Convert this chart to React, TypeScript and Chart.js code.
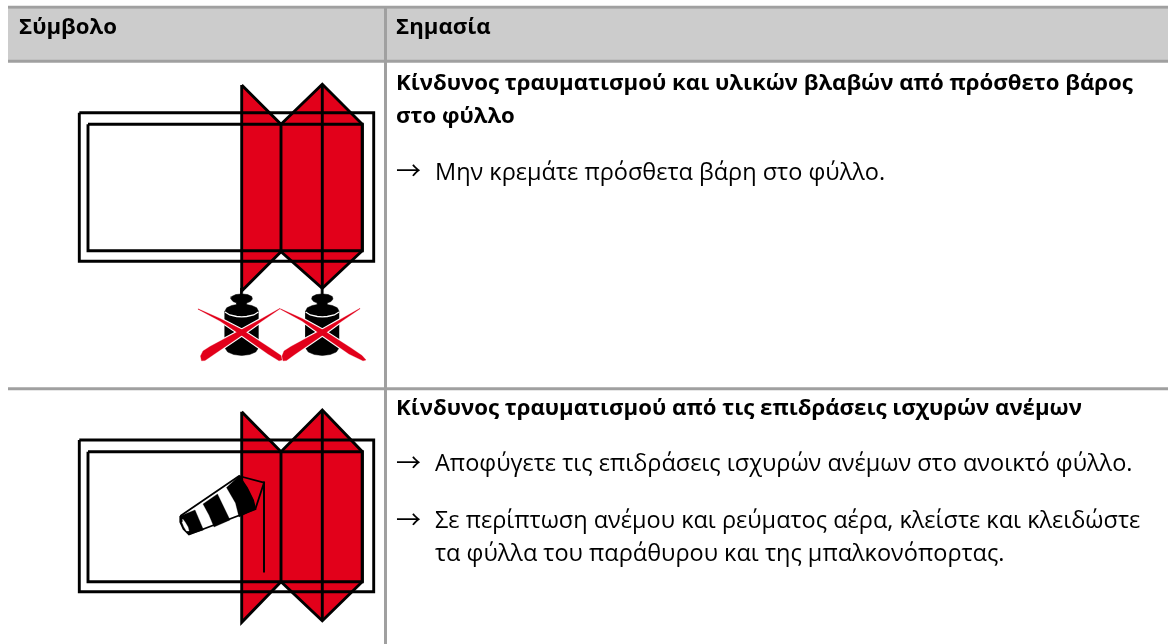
import { useEffect, useRef } from "react";
import { Chart, registerables } from "chart.js";

Chart.register(...registerables);

const GRID = "#a0a0a0";
const RED = "#e2001a";
const pts = (f: number[]) => {
  const o: { x: number; y: number }[] = [];
  for (let i = 0; i + 1 < f.length; i += 2) o.push({ x: f[i], y: f[i + 1] });
  return o;
};

// table
const headerBand = [8, 8.5, 1168, 8.5, 1168, 60.5, 8, 60.5, 8, 8.5];
const ruleTop = [8, 7.3, 1168, 7.3];
const ruleHead = [8, 61.3, 1168, 61.3];
const ruleMid = [8, 388.7, 1168, 388.7];
const ruleColumn = [385.5, 6, 385.5, 644];

// first symbol
const sash1 = [241.7, 85, 281, 124.3, 322.3, 84.3, 362.3, 124.3, 362.3, 250.7, 322.3, 288.3, 281, 251.7, 241.7, 291, 241.7, 85];
const outer1 = [79.3, 112.7, 373.7, 112.7, 373.7, 261.3, 79.3, 261.3, 79.3, 112.7];
const inner1 = [88, 124.3, 362.3, 124.3, 362.3, 250.7, 88, 250.7, 88, 124.3];
const foldA1 = [281, 124.3, 281, 251.7];
const foldB1 = [322.3, 84.3, 322.3, 288.3];

// hanging weights
const weightL = [240.7, 288, 240.7, 294, 235.7, 294.6, 231.7, 296.5, 231, 299, 233, 301.5, 236.7, 303, 236.7, 304.6, 231.7, 305.5, 226.7, 307.8, 225, 311, 225, 348, 227.7, 352, 233.7, 354.5, 241.7, 355.5, 249.7, 354.5, 255.7, 352, 258.4, 348, 258.4, 311, 256.7, 307.8, 251.7, 305.5, 246.7, 304.6, 246.7, 303, 250.4, 301.5, 252.4, 299, 251.7, 296.5, 247.7, 294.6, 242.7, 294, 242.7, 288, 240.7, 288];
const rimL = [225, 312, 229.7, 315, 236.7, 316.5, 241.7, 316.8, 246.7, 316.5, 253.7, 315, 258.4, 312];
const weightR = [321.3, 288, 321.3, 294, 316.3, 294.6, 312.3, 296.5, 311.6, 299, 313.6, 301.5, 317.3, 303, 317.3, 304.6, 312.3, 305.5, 307.3, 307.8, 305.6, 311, 305.6, 348, 308.3, 352, 314.3, 354.5, 322.3, 355.5, 330.3, 354.5, 336.3, 352, 339, 348, 339, 311, 337.3, 307.8, 332.3, 305.5, 327.3, 304.6, 327.3, 303, 331, 301.5, 333, 299, 332.3, 296.5, 328.3, 294.6, 323.3, 294, 323.3, 288, 321.3, 288];
const rimR = [305.6, 312, 310.3, 315, 317.3, 316.5, 322.3, 316.8, 327.3, 316.5, 334.3, 315, 339, 312];

// crossed-out strokes
const crossA1 = [198, 308.8, 220, 318.5, 241.7, 329.6, 270, 348, 281, 355.5, 282, 360, 279, 360.8, 268, 354, 241.7, 335.4, 220, 321, 198, 309.2, 198, 308.8];
const crossB1 = [280, 308.3, 262, 318.5, 241.7, 329.6, 210, 346.5, 203, 351, 200.5, 356, 201.5, 360.8, 205, 360.5, 213, 355, 241.7, 335.4, 262, 321, 280, 308.8, 280, 308.3];
const crossA2 = [280.5, 308.8, 302, 318.5, 322.3, 329.6, 351, 348, 362, 355.5, 366, 360, 363, 360.8, 349, 354, 322.3, 335.4, 302, 321, 280.5, 309.2, 280.5, 308.8];
const crossB2 = [360, 308.3, 342, 318.5, 322.3, 329.6, 291, 346.5, 284, 351, 282, 356, 283, 360.8, 286.5, 360.5, 294, 355, 322.3, 335.4, 342, 321, 360, 308.8, 360, 308.3];

// second symbol
const sash2 = [241.7, 411.7, 281, 451.7, 322.3, 410, 362.3, 451.7, 362.3, 581.7, 322.3, 620.7, 281, 581.7, 241.7, 622.3, 241.7, 411.7];
const outer2 = [79.3, 440, 373.7, 440, 373.7, 591.7, 79.3, 591.7, 79.3, 440];
const inner2 = [88, 451.7, 362.3, 451.7, 362.3, 581.7, 88, 581.7, 88, 451.7];
const foldA2 = [281, 451.7, 281, 581.7];
const foldB2 = [322.3, 410, 322.3, 620.7];

// wind sock
const pole = [264, 481.5, 264, 572.5];
const sockTail = [239, 476, 264, 482.7, 255.3, 509.3];
const sockBody = [180.3, 516, 239, 476, 247, 488, 253, 500, 255.3, 509.3, 189, 534.5, 183.5, 529, 180.3, 522, 180.3, 516];
const sockBand1 = [180.3, 516, 195, 510, 203.5, 530, 189, 534.5, 183.5, 529, 180.3, 522, 180.3, 516];
const sockBand2 = [203, 504, 217.5, 494, 230, 520, 214, 527, 209, 515, 203, 504];
const sockBand3 = [226.5, 487.5, 239, 476, 247, 488, 253, 500, 255.3, 509.3, 239, 517, 235.5, 503, 226.5, 487.5];
const sockMouth = [182.7, 519, 185, 522, 188, 527, 189, 531, 186.5, 531, 184, 527, 182, 522, 182.7, 519];

const HEAD_LEFT = "Σύμβολο";
const HEAD_RIGHT = "Σημασία";
const ROW1_TITLE = ["Κίνδυνος τραυματισμού και υλικών βλαβών από πρόσθετο βάρος", "στο φύλλο"];
const ROW1_BODY = "Μην κρεμάτε πρόσθετα βάρη στο φύλλο.";
const ROW2_TITLE = "Κίνδυνος τραυματισμού από τις επιδράσεις ισχυρών ανέμων";
const ROW2_A = "Αποφύγετε τις επιδράσεις ισχυρών ανέμων στο ανοικτό φύλλο.";
const ROW2_B = ["Σε περίπτωση ανέμου και ρεύματος αέρα, κλείστε και κλειδώστε", "τα φύλλα του παράθυρου και της μπαλκονόπορτας."];
const ARROW = "→";

const BOLD = '700 22.2px "Open Sans"';
const BODY = '400 23.5px "Open Sans"';
const ARROWFONT = '400 25px "Noto Sans CJK SC"';

const texts: [string, number, number, string][] = [
  [HEAD_LEFT, 19, 34, BOLD],
  [HEAD_RIGHT, 396, 34, BOLD],
  [ROW1_TITLE[0], 396, 90, BOLD],
  [ROW1_TITLE[1], 396, 123, BOLD],
  [ARROW, 396, 179.5, ARROWFONT],
  [ROW1_BODY, 435, 179.5, BODY],
  [ROW2_TITLE, 396, 415, BOLD],
  [ARROW, 396, 472, ARROWFONT],
  [ROW2_A, 435, 470.5, BODY],
  [ARROW, 396, 528.5, ARROWFONT],
  [ROW2_B[0], 435, 527.5, BODY],
  [ROW2_B[1], 435, 560.5, BODY],
];

const shape = (data: number[], fill: string | false, border: string, width: number, join: CanvasLineJoin = "miter") => ({
  data: pts(data),
  showLine: true,
  pointRadius: 0,
  borderColor: border,
  borderWidth: width,
  backgroundColor: fill || "transparent",
  fill: fill ? "shape" : false,
  tension: 0,
  borderJoinStyle: join,
  borderCapStyle: "butt" as const,
  clip: false,
});

const INK = 2.9;
const layers = [
  shape(headerBand, "#cccccc", "transparent", 0),
  shape(ruleTop, false, GRID, 3),
  shape(ruleHead, false, GRID, 3),
  shape(ruleMid, false, GRID, 3),
  shape(ruleColumn, false, GRID, 3),
  shape(sash1, RED, "#000", INK),
  shape(outer1, false, "#000", INK),
  shape(inner1, false, "#000", INK),
  shape(foldA1, false, "#000", INK),
  shape(foldB1, false, "#000", INK),
  shape(weightL, "#000", "#000", 0.5),
  shape(rimL, false, "#fff", 1.3),
  shape(weightR, "#000", "#000", 0.5),
  shape(rimR, false, "#fff", 1.3),
  shape(crossA1, false, "#fff", 2.6, "round"),
  shape(crossB1, false, "#fff", 2.6, "round"),
  shape(crossA2, false, "#fff", 2.6, "round"),
  shape(crossB2, false, "#fff", 2.6, "round"),
  shape(crossA1, RED, RED, 0.3),
  shape(crossB1, RED, RED, 0.3),
  shape(crossA2, RED, RED, 0.3),
  shape(crossB2, RED, RED, 0.3),
  shape(sash2, RED, "#000", INK),
  shape(outer2, false, "#000", INK),
  shape(inner2, false, "#000", INK),
  shape(foldA2, false, "#000", INK),
  shape(foldB2, false, "#000", INK),
  shape(pole, false, "#000", 2),
  shape(sockTail, false, "#000", 1.8),
  shape(sockBody, "#fff", "#000", 1.8),
  shape(sockBand1, "#000", "#000", 0.3),
  shape(sockBand2, "#000", "#000", 0.3),
  shape(sockBand3, "#000", "#000", 0.3),
  shape(sockMouth, "#fff", "#fff", 0.3),
].map((d, i, all) => ({ ...d, order: all.length - i }));

const textPlugin = {
  id: "tableText",
  afterDatasetsDraw(chart: any) {
    const { ctx, scales } = chart;
    ctx.save();
    ctx.fillStyle = "#000";
    ctx.textBaseline = "alphabetic";
    ctx.textAlign = "left";
    for (const [s, x, y, font] of texts) {
      ctx.font = font;
      ctx.fillText(s, scales.x.getPixelForValue(x), scales.y.getPixelForValue(y));
    }
    ctx.restore();
  },
};

export default function App() {
  const ref = useRef<HTMLCanvasElement>(null);
  useEffect(() => {
    const chart = new Chart(ref.current!, {
      type: "scatter",
      data: { datasets: layers as any },
      options: {
        animation: false,
        responsive: false,
        layout: { padding: 0 },
        plugins: { legend: { display: false }, tooltip: { enabled: false }, title: { display: false } },
        scales: {
          x: { type: "linear", min: 0, max: 1168, display: false },
          y: { type: "linear", min: 0, max: 644, reverse: true, display: false },
        },
      },
      plugins: [textPlugin],
    });
    return () => chart.destroy();
  }, []);
  return (
    <div style={{ position: "fixed", left: 0, top: 0, width: 1168, height: 644, background: "#fff" }}>
      <canvas ref={ref} width={1168} height={644} style={{ display: "block" }} />
    </div>
  );
}
